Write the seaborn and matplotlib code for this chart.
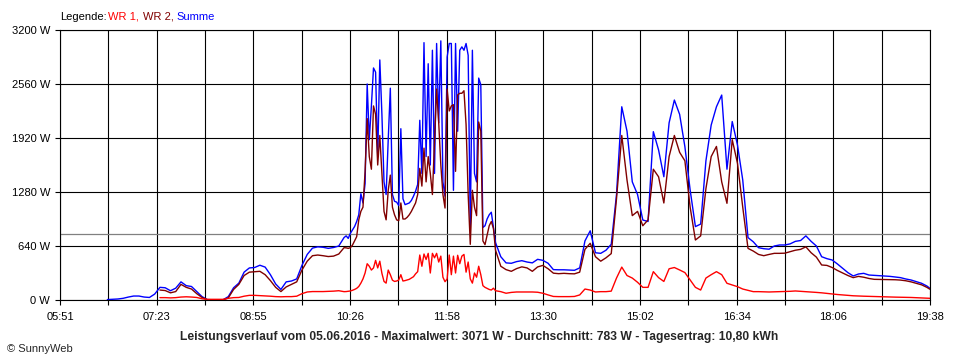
import numpy as np
import pandas as pd
import seaborn as sns
import matplotlib
matplotlib.use("Agg")
import matplotlib.pyplot as plt

nan = np.nan

# time grid in minutes after midnight: coarse morning, fine around noon, coarse afternoon
TIMES = np.concatenate([
    np.arange(351, 617, 5),
    np.arange(621, 765, 2),
    np.arange(765, 1176, 5),
    [1178],
])

# --- Summe (blue) ---
summe_morning = [nan] * 9 + [
    5, 8, 12, 20, 35, 47, 47, 35, 30, 70,
    150, 145, 110, 140, 215, 170, 160, 100, 40, 5,
    3, 3, 3, 40, 145, 200, 330, 380, 385, 412,
    390, 300, 190, 125, 215, 225, 250, 410, 540, 615,
    630, 625, 612, 622, 640]
summe_noon = [
    740, 760, 730, 790, 830, 870, 930, 1010, 1260, 1150,
    1380, 2560, 1900, 2300, 2750, 2700, 1700, 2845, 2200, 1400,
    1250, 1900, 2510, 1250, 1170, 1160, 1120, 2030, 1200, 1130,
    1140, 1150, 1180, 1230, 1290, 1370, 2130, 1500, 3050, 1700,
    2800, 1600, 2960, 1500, 3040, 2100, 3071, 1400, 1230, 2880,
    3040, 3040, 1300, 3040, 2000, 2960, 3000, 2960, 3040, 2900,
    850, 2960, 1500, 1400, 2630, 2550, 860, 880, 960, 1010,
    1040, 860]
summe_afternoon = [
    680, 513, 440, 435, 455, 466, 450, 440, 482, 470,
    435, 360, 358, 358, 355, 352, 380, 700, 820, 560,
    553, 590, 660, 1250, 2290, 2000, 1400, 1250, 948, 930,
    1995, 1778, 1461, 2100, 2370, 2200, 1817, 1304, 870, 900,
    1650, 2074, 2290, 2429, 1550, 2115, 1837, 1422, 740, 690,
    620, 608, 602, 640, 652, 652, 665, 695, 705, 760,
    695, 640, 513, 490, 474, 427, 375, 324, 285, 308,
    316, 296, 292, 288, 284, 280, 272, 265, 249, 237,
    217, 198, 166, 138]

# --- WR 2 (dark red) ---
wr2_morning = [nan] * 19 + [
    118, 112, 85, 100, 185, 150, 130, 75, 30, 3,
    0, 0, 0, 25, 125, 185, 290, 330, 335, 340,
    300, 230, 150, 100, 155, 185, 215, 355, 460, 525,
    533, 525, 515, 520, 545]
wr2_noon = [
    620, 618, 612, 620, 650, 700, 750, 950, 1050, 1100,
    1520, 2150, 1700, 1550, 2300, 2200, 1600, 1950, 1500, 1050,
    950, 1300, 1480, 1100, 1010, 950, 940, 1150, 960, 960,
    980, 1010, 1050, 1100, 1150, 1250, 1560, 1350, 1800, 1400,
    1700, 1500, 1250, 1880, 2500, 2100, 1600, 1250, 1090, 2500,
    2240, 2300, 2315, 1525, 2430, 2450, 2450, 2480, 2080, 1250,
    660, 1300, 1100, 1000, 2110, 2000, 700, 656, 770, 880,
    930, 850]
wr2_afternoon = [
    590, 400, 360, 340, 372, 393, 380, 340, 392, 410,
    370, 318, 312, 316, 312, 310, 330, 600, 672, 513,
    460, 500, 550, 1200, 1950, 1420, 1000, 1050, 880, 950,
    1550, 1460, 1150, 1700, 1950, 1750, 1650, 1100, 711, 760,
    1320, 1700, 1820, 1400, 1146, 1900, 1620, 1100, 612, 580,
    540, 525, 540, 553, 553, 555, 573, 590, 600, 630,
    560, 508, 415, 410, 385, 350, 320, 290, 265, 280,
    270, 255, 245, 244, 244, 242, 240, 236, 228, 215,
    198, 180, 150, 127]

# --- WR 1 (red) ---
wr1_morning = [nan] * 19 + [
    28, 28, 25, 28, 35, 38, 35, 30, 15, 8,
    8, 8, 8, 20, 28, 30, 45, 55, 55, 52,
    50, 45, 40, 38, 40, 40, 45, 75, 95, 100,
    100, 100, 102, 105, 110]
wr1_noon = [
    99, 100, 103, 107, 115, 125, 138, 160, 200, 250,
    320, 430, 400, 355, 380, 470, 380, 460, 316, 220,
    200, 355, 300, 235, 220, 225, 237, 300, 225, 230,
    237, 245, 260, 276, 310, 336, 533, 400, 545, 480,
    553, 320, 553, 500, 553, 450, 520, 270, 217, 250,
    533, 300, 520, 320, 530, 430, 520, 540, 330, 450,
    250, 200, 320, 270, 400, 300, 170, 150, 138, 125,
    118, 140]
wr1_afternoon = [
    110, 99, 80, 90, 95, 95, 95, 95, 92, 80,
    60, 42, 40, 40, 40, 42, 60, 130, 118, 95,
    99, 99, 105, 260, 390, 290, 260, 210, 150, 150,
    336, 265, 220, 370, 385, 356, 325, 237, 150, 118,
    260, 300, 336, 300, 198, 178, 158, 130, 115, 99,
    99, 97, 95, 97, 99, 100, 103, 107, 103, 99,
    95, 90, 85, 78, 71, 65, 60, 55, 50, 47,
    45, 43, 42, 40, 38, 36, 34, 33, 32, 30,
    27, 24, 21, 20]

X_LABELS = ["05:51", "07:23", "08:55", "10:26", "11:58",
            "13:30", "15:02", "16:34", "18:06", "19:38"]
Y_TICKS = [0, 640, 1280, 1920, 2560, 3200]
Y_LABELS = ["0 W", "640 W", "1280 W", "1920 W", "2560 W", "3200 W"]
AVERAGE = 783
TITLE = ("Leistungsverlauf vom 05.06.2016 - Maximalwert: 3071 W - "
         "Durchschnitt: 783 W - Tagesertrag: 10,80 kWh")

COLORS = {"WR 1": "#ff0000", "WR 2": "#800000", "Summe": "#0000ff"}

series = {
    "Summe": summe_morning + summe_noon + summe_afternoon,
    "WR 2": wr2_morning + wr2_noon + wr2_afternoon,
    "WR 1": wr1_morning + wr1_noon + wr1_afternoon,
}
df = pd.concat(
    [pd.DataFrame({"t": TIMES, "P": vals, "Reihe": name}) for name, vals in series.items()],
    ignore_index=True,
)

sns.set_theme(style="white")
plt.rcParams["font.family"] = ["Liberation Sans", "DejaVu Sans"]

fig = plt.figure(figsize=(9.6, 3.6), dpi=100)
ax = fig.add_axes([60 / 960, 60 / 360, 870 / 960, 270 / 360])

ax.axhline(AVERAGE, color="#808080", linewidth=0.9, zorder=1)
sns.lineplot(
    data=df, x="t", y="P", hue="Reihe",
    hue_order=["Summe", "WR 2", "WR 1"], palette=COLORS,
    estimator=None, linewidth=1.0,
    legend=False, ax=ax,
)

xt = np.linspace(351, 1178, 19)
ax.set_xticks(xt)
ax.set_xticklabels([X_LABELS[i // 2] if i % 2 == 0 else "" for i in range(19)], fontsize=8)
ax.set_yticks(Y_TICKS)
ax.set_yticklabels(Y_LABELS, fontsize=8)
ax.set_xlim(351, 1178)
ax.set_ylim(0, 3200)
ax.set_xlabel("")
ax.set_ylabel("")

ax.set_axisbelow(True)
ax.grid(True, color="black", linewidth=0.8)
for sp in ax.spines.values():
    sp.set_color("black")
    sp.set_linewidth(0.8)
ax.tick_params(axis="both", length=3.6, width=0.8, color="black",
               labelcolor="black", bottom=True, left=True)
ax.tick_params(axis="x", pad=5)
ax.tick_params(axis="y", pad=3.5)

# legend line at the top
ly = 1 - 16.5 / 360
fig.text(60 / 960, ly, "Legende:", color="black", fontsize=8, va="center")
fig.text(108.3 / 960, ly, "WR 1,", color=COLORS["WR 1"], fontsize=8, va="center")
fig.text(142.7 / 960, ly, "WR 2,", color=COLORS["WR 2"], fontsize=8, va="center")
fig.text(176.7 / 960, ly, "Summe", color=COLORS["Summe"], fontsize=8, va="center")

fig.text(479 / 960, 1 - 337 / 360, TITLE, ha="center", va="center",
         fontsize=8.7, fontweight="bold")
fig.text(7 / 960, 1 - 349 / 360, "\u00a9 SunnyWeb", va="center", fontsize=8)

fig.savefig("out.png", dpi=100)
